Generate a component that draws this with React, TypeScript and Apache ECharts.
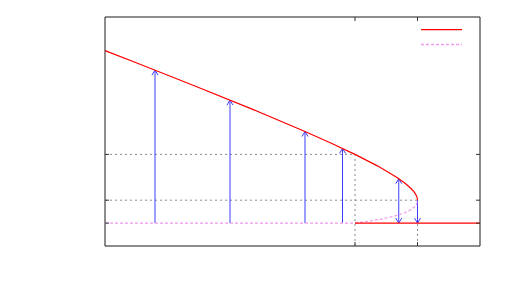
import React, { useEffect, useRef } from "react";
import * as echarts from "echarts";

// Upper stable branch
const upperY = [1, 1.05, 1.1, 1.2, 1.35, 1.5, 1.75, 2, 2.5, 3, 3.5, 4, 5, 6, 7, 7.53];
const upperX = [2.5, 2.499, 2.498, 2.491, 2.474, 2.45, 2.398, 2.333, 2.179, 2.0, 1.806, 1.6, 1.167, 0.714, 0.25, 0.0];

// Unstable branch (dashed)
const unstableY = [0, 0, 0.1, 0.2, 0.3, 0.4, 0.5, 0.6, 0.7, 0.8, 0.9, 1];
const unstableX = [0, 2, 2.132, 2.233, 2.312, 2.371, 2.417, 2.45, 2.474, 2.489, 2.497, 2.5];

// Lower stable branch
const lowerX = [2, 3];
const lowerY = [0, 0];

// Arrows: x, from, to
const arrowX = [0.4, 1.0, 1.6, 1.9, 2.35, 2.35, 2.5];
const arrowFrom = [0, 0, 0, 0, 0.36, 0.36, 1];
const arrowTo = [6.68, 5.37, 4.0, 3.26, 1.94, 0, 0];

// Dotted guide segments: x1, y1, x2, y2
const guideX1 = [0, 2, 0, 2.5];
const guideY1 = [3, -1, 1, -1];
const guideX2 = [2, 2, 2.5, 2.5];
const guideY2 = [3, 3, 1, 1];

const xTicks = [2, 2.5];
const yTicks = [0, 1, 3];

const RED = "#ff0000";
const PINK = "#ee9aee";
const BLUE = "#3c3cff";
const GRAY = "#8a8a8a";
const TICK = "#333333";

export default function App() {
  const ref = useRef<HTMLDivElement>(null);
  useEffect(() => {
    if (!ref.current) return;
    const chart = echarts.init(ref.current, undefined, { renderer: "svg" });

    const baseX = {
      type: "value" as const,
      min: 0,
      max: 3,
      axisLine: { show: false },
      splitLine: { show: false },
      axisLabel: { show: false },
      axisTick: { show: false },
    };
    const baseY = {
      type: "value" as const,
      min: -1,
      max: 9,
      axisLine: { show: false },
      splitLine: { show: false },
      axisLabel: { show: false },
      axisTick: { show: false },
    };

    const option: any = {
      animation: false,
      backgroundColor: "#fff",
      grid: {
        left: 105,
        top: 17,
        right: 51,
        bottom: 49,
        show: true,
        borderColor: "#1a1a1a",
        borderWidth: 1,
        containLabel: false,
      },
      xAxis: [baseX],
      yAxis: [baseY],
      graphic: [
        {
          type: "rect",
          shape: { x: 421, y: 29, width: 41, height: 1.3 },
          style: { fill: RED },
          z: 100,
        },
        {
          type: "line",
          shape: { x1: 421, y1: 44.5, x2: 462, y2: 44.5 },
          style: { stroke: PINK, lineWidth: 1.3, lineDash: [3, 2] },
          z: 100,
        },
      ],
      series: [
        {
          type: "custom",
          name: "xticks",
          z: 5,
          data: xTicks.map((v) => [v]),
          renderItem: (params: any, api: any) => {
            const cs = params.coordSys;
            const p = api.coord([api.value(0), 0]);
            const top = cs.y;
            const bot = cs.y + cs.height;
            return {
              type: "group",
              children: [
                { type: "line", shape: { x1: p[0], y1: bot, x2: p[0], y2: bot - 4 }, style: { stroke: TICK, lineWidth: 1 } },
                { type: "line", shape: { x1: p[0], y1: top, x2: p[0], y2: top + 4 }, style: { stroke: TICK, lineWidth: 1 } },
              ],
            };
          },
        },
        {
          type: "custom",
          name: "yticks",
          z: 5,
          data: yTicks.map((v) => [0, v]),
          renderItem: (params: any, api: any) => {
            const cs = params.coordSys;
            const p = api.coord([0, api.value(1)]);
            const l = cs.x;
            const r = cs.x + cs.width;
            return {
              type: "group",
              children: [
                { type: "line", shape: { x1: l, y1: p[1], x2: l + 4, y2: p[1] }, style: { stroke: TICK, lineWidth: 1 } },
                { type: "line", shape: { x1: r, y1: p[1], x2: r - 4, y2: p[1] }, style: { stroke: TICK, lineWidth: 1 } },
              ],
            };
          },
        },
        {
          type: "custom",
          name: "guides",
          z: 1,
          data: guideX1.map((x, i) => [x, guideY1[i], guideX2[i], guideY2[i]]),
          renderItem: (_p: any, api: any) => {
            const a = api.coord([api.value(0), api.value(1)]);
            const b = api.coord([api.value(2), api.value(3)]);
            return {
              type: "line",
              shape: { x1: a[0], y1: a[1], x2: b[0], y2: b[1] },
              style: { stroke: GRAY, lineWidth: 1, lineDash: [2, 3] },
            };
          },
        },
        {
          type: "custom",
          name: "arrows",
          z: 2,
          data: arrowX.map((x, i) => [x, arrowFrom[i], arrowTo[i]]),
          renderItem: (_p: any, api: any) => {
            const a = api.coord([api.value(0), api.value(1)]);
            const b = api.coord([api.value(0), api.value(2)]);
            const dir = b[1] < a[1] ? 1 : -1; // 1 = upward
            const hl = 5;
            const hw = 3;
            return {
              type: "group",
              children: [
                {
                  type: "line",
                  shape: { x1: a[0], y1: a[1], x2: b[0], y2: b[1] },
                  style: { stroke: BLUE, lineWidth: 1 },
                },
                {
                  type: "polyline",
                  shape: {
                    points: [
                      [b[0] - hw, b[1] + dir * hl],
                      [b[0], b[1]],
                      [b[0] + hw, b[1] + dir * hl],
                    ],
                  },
                  style: { stroke: BLUE, lineWidth: 1, fill: "none" },
                },
              ],
            };
          },
        },
        {
          type: "line",
          name: "unstable",
          z: 3,
          data: unstableX.map((x, i) => [x, unstableY[i]]),
          symbol: "none",
          lineStyle: { color: PINK, width: 1.2, type: [3, 2] },
        },
        {
          type: "line",
          name: "stable",
          z: 4,
          data: upperX.map((x, i) => [x, upperY[i]]),
          symbol: "none",
          lineStyle: { color: RED, width: 1.2 },
        },
        {
          type: "line",
          name: "stable-low",
          z: 4,
          data: lowerX.map((x, i) => [x, lowerY[i]]),
          symbol: "none",
          lineStyle: { color: RED, width: 1.2 },
        },
      ],
    };
    chart.setOption(option);
    return () => chart.dispose();
  }, []);

  return (
    <div
      ref={ref}
      style={{ position: "fixed", left: 0, top: 0, width: 531, height: 295 }}
    />
  );
}
